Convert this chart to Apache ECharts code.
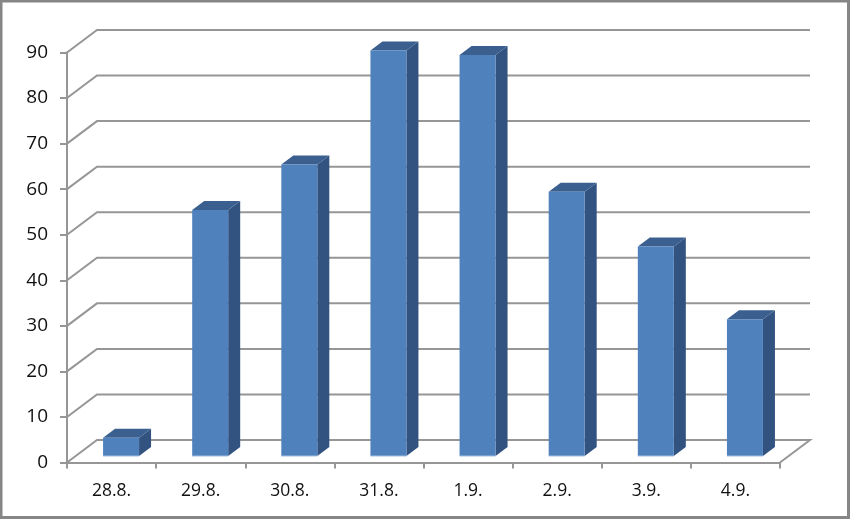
<!DOCTYPE html>
<html><head><meta charset="utf-8">
<style>html,body{margin:0;padding:0;background:#fff}#c{width:850px;height:520px}</style>
<script src="https://cdn.jsdelivr.net/npm/echarts@6/dist/echarts.min.js"></script>
</head><body><div id="c"></div>
<script>
const categories = ['28.8.','29.8.','30.8.','31.8.','1.9.','2.9.','3.9.','4.9.'];
const values = [4,54,64,89,88,58,46,30];
const gridValues = [0,10,20,30,40,50,60,70,80,90];

const LINE = '#969696';
const WALL_DX = 30, WALL_DY = -22.5;
const BAR_W = 36, BAR_SHIFT_X = 9.5, BAR_SHIFT_Y = -6.5, SIDE_DX = 12, SIDE_DY = -9;

const chart = echarts.init(document.getElementById('c'), null, {renderer:'canvas'});
const lineStyle = {stroke: LINE, lineWidth: 2, fill: null};

chart.setOption({
  animation: false,
  backgroundColor: '#fff',
  graphic: [{type:'rect', z:100, silent:true,
    shape:{x:1,y:1,width:847.5,height:516.5},
    style:{fill:'none',stroke:'#868686',lineWidth:3}}],
  grid: {left:67, right:70, top:52.5, bottom:57.5},
  xAxis: {
    type:'category', data:categories, boundaryGap:true,
    axisLine:{show:true,lineStyle:{color:LINE,width:2}},
    axisTick:{show:true,alignWithLabel:false,length:6,lineStyle:{color:LINE,width:2}},
    axisLabel:{fontFamily:'Open Sans',fontSize:17.5,color:'#111',margin:20}
  },
  yAxis: {
    type:'value', min:0, max:90, interval:10,
    axisLine:{show:true,lineStyle:{color:LINE,width:2}},
    axisTick:{show:true,length:7,lineStyle:{color:LINE,width:2}},
    splitLine:{show:false},
    axisLabel:{fontFamily:'Open Sans',fontSize:19,color:'#111',margin:19}
  },
  series: [
    {
      type:'custom', coordinateSystem:'cartesian2d', z:1, silent:true,
      data: gridValues.map(v => [0, v]),
      encode:{x:0,y:1},
      renderItem(params, api){
        const v = api.value(1);
        const p = api.coord([0, v]);
        const left = params.coordSys.x;
        const right = left + params.coordSys.width;
        const pts = [[left,p[1]],[left+WALL_DX,p[1]+WALL_DY],[right+WALL_DX,p[1]+WALL_DY]];
        if (v === 0) pts.push([right,p[1]]);
        return {type:'polyline', shape:{points:pts}, style:lineStyle};
      }
    },
    {
      type:'custom', coordinateSystem:'cartesian2d', z:2, silent:true,
      data: values.map((v,i) => [i, v]),
      encode:{x:0,y:1},
      renderItem(params, api){
        const top = api.coord([api.value(0), api.value(1)]);
        const base = api.coord([api.value(0), 0]);
        const x0 = top[0] + BAR_SHIFT_X - BAR_W/2, x1 = x0 + BAR_W;
        const yT = top[1] + BAR_SHIFT_Y, yB = base[1] + BAR_SHIFT_Y;
        return {type:'group', children:[
          {type:'polygon', shape:{points:[[x1,yT],[x1+SIDE_DX,yT+SIDE_DY],[x1+SIDE_DX,yB+SIDE_DY],[x1,yB]]},
            style:{fill:'#325280'}},
          {type:'polygon', shape:{points:[[x0,yT],[x0+SIDE_DX,yT+SIDE_DY],[x1+SIDE_DX,yT+SIDE_DY],[x1,yT]]},
            style:{fill:'#3b6090'}},
          {type:'rect', shape:{x:x0,y:yT,width:BAR_W,height:yB-yT},
            style:{fill:'#4f81bd'}},
          {type:'line', shape:{x1:x0,y1:yB,x2:x1,y2:yB}, style:{stroke:'#a3c0e2',lineWidth:1}}
        ]};
      }
    }
  ]
});
</script></body></html>
